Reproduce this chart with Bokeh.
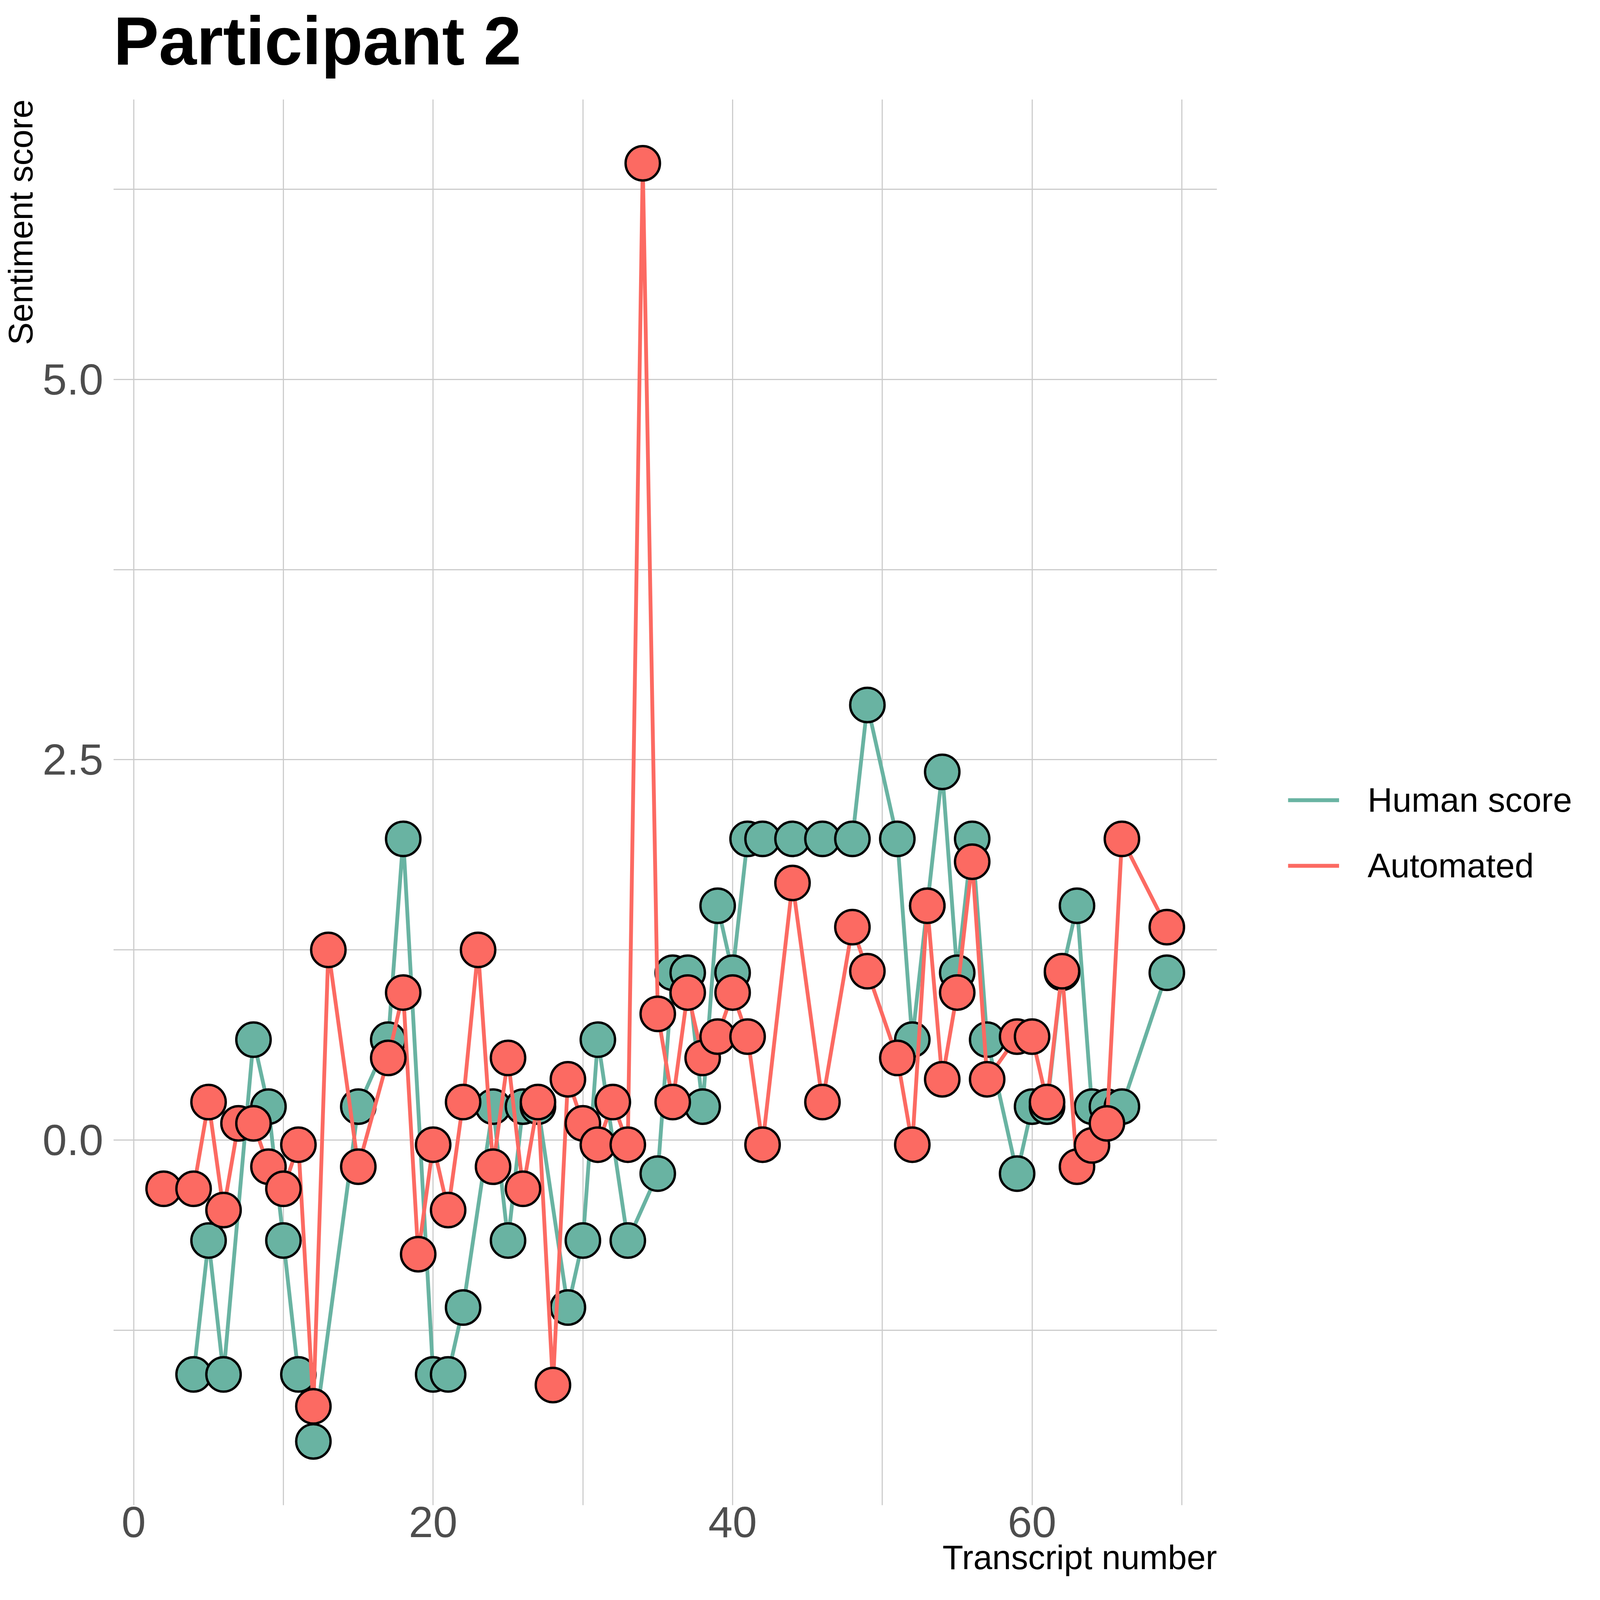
from bokeh.plotting import figure
from bokeh.models import Range1d, FixedTicker, Legend, LegendItem, Title
from bokeh.embed import file_html
from bokeh.resources import INLINE

# ---------------- data ----------------
TITLE = "Participant 2"
X_LABEL = "Transcript number"
Y_LABEL = "Sentiment score"
SERIES_NAMES = ["Human score", "Automated"]

human_x = [4, 5, 6, 8, 9, 10, 11, 12, 15, 17, 18, 20, 21, 22, 24, 25, 26, 27, 29, 30,
           31, 33, 35, 36, 37, 38, 39, 40, 41, 42, 44, 46, 48, 49, 51, 52, 53, 54, 55, 56,
           57, 59, 60, 61, 62, 63, 64, 65, 66, 69]
human_y = [-1.54, -0.66, -1.54, 0.66, 0.22, -0.66, -1.54, -1.98, 0.22, 0.66, 1.98, -1.54, -1.54, -1.10, 0.22, -0.66, 0.22, 0.22, -1.10, -0.66,
           0.66, -0.66, -0.22, 1.10, 1.10, 0.22, 1.54, 1.10, 1.98, 1.98, 1.98, 1.98, 1.98, 2.86, 1.98, 0.66, 1.54, 2.42, 1.10, 1.98,
           0.66, -0.22, 0.22, 0.22, 1.10, 1.54, 0.22, 0.22, 0.22, 1.10]

auto_x = [2, 4, 5, 6, 7, 8, 9, 10, 11, 12, 13, 15, 17, 18, 19, 20, 21, 22, 23, 24,
          25, 26, 27, 28, 29, 30, 31, 32, 33, 34, 35, 36, 37, 38, 39, 40, 41, 42, 44, 46,
          48, 49, 51, 52, 53, 54, 55, 56, 57, 59, 60, 61, 62, 63, 64, 65, 66, 69]
auto_y = [-0.32, -0.32, 0.25, -0.46, 0.11, 0.11, -0.175, -0.32, -0.03, -1.75, 1.25, -0.175, 0.54, 0.97, -0.75, -0.03, -0.46, 0.25, 1.25, -0.175,
          0.54, -0.32, 0.25, -1.61, 0.40, 0.11, -0.03, 0.25, -0.03, 6.42, 0.83, 0.25, 0.97, 0.54, 0.68, 0.97, 0.68, -0.03, 1.69, 0.25,
          1.40, 1.11, 0.54, -0.03, 1.54, 0.40, 0.97, 1.83, 0.40, 0.68, 0.68, 0.25, 1.11, -0.175, -0.035, 0.11, 1.98, 1.40]

X_TICKS = [0, 20, 40, 60]
X_MINOR = [10, 30, 50, 70]
Y_TICKS = [0.0, 2.5, 5.0]
Y_TICK_LABELS = ["0.0", "2.5", "5.0"]
Y_MINOR = [-1.25, 1.25, 3.75, 6.25]

# ---------------- style / layout (CSS px) ----------------
GREEN = "#69B3A2"
RED = "#FC6A62"
GRID = "#CCCCCC"
FONT = "Liberation Sans"

FW, FH = 2825, 3599          # plotting frame
BL, BR, BB = 288, 924, 236    # borders (top border comes from the title block)


def expand(lo, hi, f=0.05):
    span = hi - lo
    return lo - f * span, hi + f * span


x0, x1 = expand(min(human_x + auto_x), max(human_x + auto_x))
y0, y1 = expand(min(human_y + auto_y), max(human_y + auto_y))

p = figure(frame_width=FW, frame_height=FH, x_range=Range1d(x0, x1), y_range=Range1d(y0, y1),
           output_backend="svg", toolbar_location=None,
           min_border_left=BL, min_border_right=BR, min_border_top=0, min_border_bottom=BB,
           background_fill_color="white", border_fill_color="white", outline_line_color=None)

# title block: spacer next to the frame, then the main title (outermost)
p.add_layout(Title(text=" ", text_font=FONT, text_font_size="10px", standoff=32), "above")
p.title.text = TITLE
p.title.text_font = FONT
p.title.text_font_size = "174px"
p.title.text_font_style = "bold"
p.title.text_color = "black"
p.title.align = "left"
p.title.vertical_align = "top"
p.title.offset = 0
p.title.standoff = 12

# axis titles, aligned to the end of each axis (as in the original)
p.add_layout(Title(text=X_LABEL, align="right", vertical_align="top", standoff=0,
                   text_font=FONT, text_font_size="87px", text_font_style="normal",
                   text_color="black"), "below")
p.add_layout(Title(text=Y_LABEL, align="right", vertical_align="top", standoff=6,
                   text_font=FONT, text_font_size="87px", text_font_style="normal",
                   text_color="black"), "left")

p.xaxis.ticker = FixedTicker(ticks=X_TICKS, minor_ticks=X_MINOR)
p.yaxis.ticker = FixedTicker(ticks=Y_TICKS, minor_ticks=Y_MINOR)
p.yaxis.major_label_overrides = {t: l for t, l in zip(Y_TICKS, Y_TICK_LABELS)}

for ax in (p.xaxis[0], p.yaxis[0]):
    ax.axis_line_color = None
    ax.major_tick_line_color = None
    ax.minor_tick_line_color = None
    ax.major_tick_out = 0
    ax.major_tick_in = 0
    ax.minor_tick_out = 0
    ax.minor_tick_in = 0
    ax.major_label_text_font = FONT
    ax.major_label_text_font_size = "112px"
    ax.major_label_text_color = "#4D4D4D"
p.xaxis.major_label_standoff = 4
p.yaxis.major_label_standoff = 26

for g in (p.xgrid[0], p.ygrid[0]):
    g.grid_line_color = GRID
    g.grid_line_width = 2.9
    g.minor_grid_line_color = GRID
    g.minor_grid_line_width = 2.9

# series: human line + points, then automated line + points
r_h = p.line(human_x, human_y, line_color=GREEN, line_width=9.8, line_join="round")
p.scatter(human_x, human_y, size=88, fill_color=GREEN, line_color="black", line_width=6)
r_a = p.line(auto_x, auto_y, line_color=RED, line_width=9.8, line_join="round")
p.scatter(auto_x, auto_y, size=88, fill_color=RED, line_color="black", line_width=6)

legend = Legend(items=[LegendItem(label=SERIES_NAMES[0], renderers=[r_h]),
                       LegendItem(label=SERIES_NAMES[1], renderers=[r_a])],
                location=(182, 1553),
                glyph_width=131, glyph_height=168, spacing=0, padding=0, margin=0,
                label_standoff=73, label_text_font=FONT, label_text_font_size="88px",
                label_text_color="black", border_line_color=None,
                background_fill_alpha=0)
p.add_layout(legend, "right")

open("out.html", "w").write(file_html(p, INLINE, title=TITLE))
